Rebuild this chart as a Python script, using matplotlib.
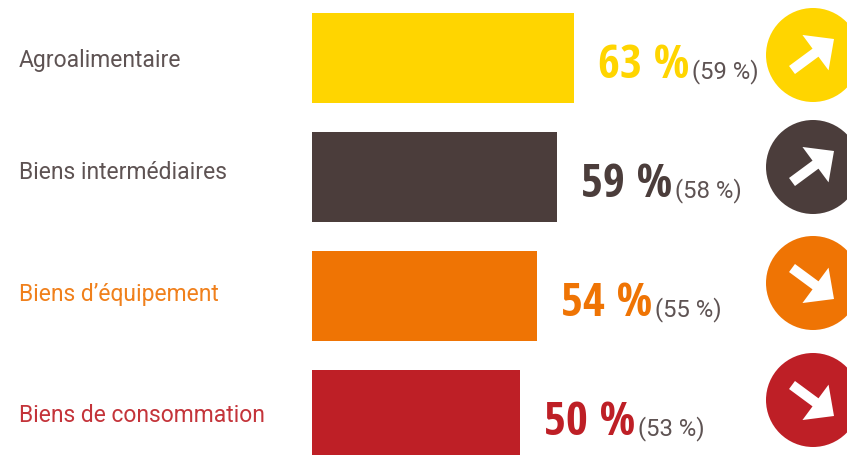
import matplotlib
matplotlib.use("Agg")
import matplotlib.pyplot as plt
from matplotlib.patches import Circle, FancyArrow

categories = ["Agroalimentaire", "Biens intermédiaires", "Biens d’équipement", "Biens de consommation"]
values = [63, 59, 54, 50]
previous = [59, 58, 55, 53]
colors = ["#FFD500", "#4B3D3B", "#EF7404", "#BE1F26"]
label_colors = ["#5E5353", "#5E5353", "#F0801C", "#C4343A"]

W, H = 847, 455
fig = plt.figure(figsize=(W/100, H/100), dpi=100)
ax = fig.add_axes([0, 0, 1, 1])
ax.set_xlim(0, W); ax.set_ylim(H, 0); ax.axis("off")

bar_tops = [13, 132, 251, 370]
bar_h = [90, 90, 90, 85]
cy = [55, 167, 283, 400]
label_base = [67, 179, 301, 422]
text_base = [78, 197, 316, 435]
x0 = 312
scale = (574 - 312) / 63

for i, c in enumerate(categories):
    v = values[i]
    right = x0 + v * scale
    ax.barh(bar_tops[i] + bar_h[i] / 2, v * scale, height=bar_h[i], left=x0, color=colors[i], lw=0)
    ax.text(19, label_base[i], c, color=label_colors[i], fontsize=16.5, family="Roboto",
            va="baseline", ha="left")
    ax.text(right + 24, text_base[i], f"{v} %", color=colors[i], fontsize=34, family="Open Sans Condensed",
            fontweight="bold", va="baseline", ha="left")
    ax.text(right + 118, text_base[i], f"({previous[i]} %)", color="#5E5353", fontsize=17.2,
            family="Roboto", va="baseline", ha="left")
    ax.add_patch(Circle((813, cy[i]), 47, color=colors[i], lw=0))
    up = previous[i] < v
    dy = -1 if up else 1
    ax.add_patch(FancyArrow(792, cy[i] - dy * 15, 42, dy * 31, width=10, head_width=44, head_length=23,
                            length_includes_head=True, color="white", lw=0))
fig.savefig("out.png", dpi=100)
